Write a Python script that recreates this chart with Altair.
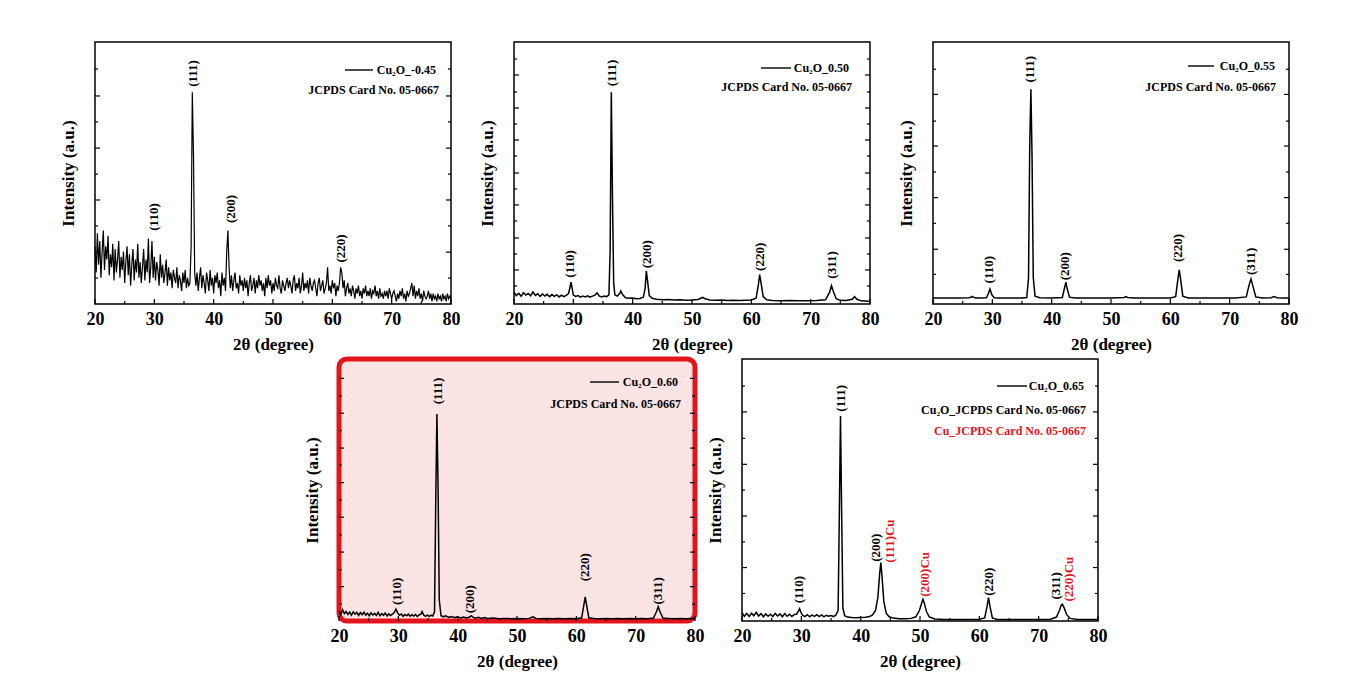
import altair as alt
import pandas as pd

FONT = "Liberation Serif"
W, H = 356, 262

X_MAJOR = [20, 30, 40, 50, 60, 70, 80]
X_MINOR = [25, 35, 45, 55, 65, 75]

# ---------------- Panel 1: Cu2O_-0.45 (noisy), sampled every 0.2 deg ----------
p1_y = [
    22, 12, 27, 15, 24,  10, 20, 28, 13, 22,  17, 26, 11, 19, 14,  23, 9, 21, 12, 17,
    24, 10, 18, 13, 20,  8, 16, 22, 11, 19,  7, 15, 21, 9, 17,  12, 23, 10, 16, 8,
    14, 21, 9, 17, 12,  25, 8, 14, 24, 10,  18, 9, 16, 13, 7,  19, 10, 15, 8, 12,
    17, 7, 14, 9, 12,  6, 13, 10, 8, 14,  6, 11, 9, 5, 12,  8, 13, 6, 10, 7,
    8, 22, 80.8, 57, 12,  7, 12, 5, 10, 14,  6, 11, 8, 4, 12,  9, 5, 13, 7, 10,
    4, 11, 8, 12, 6,  9, 3, 12, 7, 10,  5, 20, 28, 14, 6,  11, 5, 9, 12, 6,
    8, 4, 11, 7, 9,  5, 10, 6, 9, 3,  8, 11, 5, 7, 10,  4, 9, 6, 11, 7,
    9, 5, 8, 3, 10,  6, 11, 7, 9, 4,  8, 5, 10, 7, 6,  11, 6, 4, 9, 7,
    5, 8, 10, 6, 9,  7, 4, 9, 11, 5,  8, 6, 10, 4, 7,  12, 5, 8, 6, 9,
    4, 10, 7, 5, 8,  9, 6, 3, 8, 10,  5, 7, 9, 4, 6,  8, 14, 5, 7, 4,
    9, 6, 8, 3, 7,  5, 8, 14, 12, 6,  9, 3, 6, 8, 4,  6, 3, 7, 5, 2,
    6, 4, 7, 3, 5,  2, 6, 4, 7, 3,  5, 3, 6, 2, 5,  4, 7, 3, 5, 2,
    6, 3, 4, 2, 5,  3, 5, 2, 6, 4,  2, 4, 5, 3, 1,  4, 2, 5, 3, 6,
    2, 4, 1, 5, 3,  4, 6, 8, 3, 7,  2, 5, 3, 6, 2,  4, 1, 5, 3, 2,
    3, 5, 2, 4, 1,  4, 2, 3, 1, 4,  2, 3, 1, 4, 2,  3, 1, 4, 2, 3,
    2,
]
p1_x = [round(20 + 0.2 * i, 2) for i in range(len(p1_y))]

# ---------------- Panel 2: Cu2O_0.50 ----------------
p2_x = [20, 20.4, 20.8, 21.2, 21.6, 22, 22.4, 22.8, 23.2, 23.6, 24, 24.4, 24.8, 25.2, 25.6,
        26, 26.4, 26.8, 27.2, 27.6, 28, 28.4, 28.8, 29.2, 29.4, 29.6, 29.8, 30.0, 30.4,
        30.8, 31.2, 31.6, 32, 32.4, 32.8, 33.2, 33.6, 34.0, 34.4, 34.8, 35.2, 35.6, 36.0,
        36.2, 36.4, 36.6, 36.8, 37.0, 37.4, 37.8, 38.0, 38.3, 38.8, 39.4, 40, 40.6, 41.2,
        41.8, 42.1, 42.3, 42.5, 42.8, 43.3, 44, 45, 46, 47, 48, 49, 50, 51, 51.8, 52.2,
        53, 54, 55, 56, 57, 58, 59, 60, 60.8, 61.2, 61.4, 61.6, 62, 62.6, 63.5, 65, 66.5,
        68, 69.5, 71, 72.5, 73.2, 73.5, 73.8, 74.3, 75, 76, 77, 77.4, 77.8, 78.5, 79.2, 80]
p2_y = [4.5, 3.2, 4.1, 3.0, 4.3, 3.4, 4.0, 3.1, 4.6, 3.3, 3.9, 2.9, 3.8, 3.0, 3.7,
        2.8, 3.6, 2.9, 3.5, 2.7, 3.4, 2.8, 3.3, 4.0, 6.0, 8.3, 6.0, 3.4, 2.9,
        3.2, 2.6, 3.0, 2.7, 3.1, 2.6, 3.0, 3.3, 4.2, 3.0, 2.7, 3.0, 2.8, 3.5,
        20, 80.8, 40, 8, 3.5, 3.0, 4.0, 5.0, 3.6, 2.4, 2.2, 2.3, 2.0, 2.1,
        2.6, 6, 12.7, 9, 3.2, 2.2, 1.8, 1.6, 1.7, 1.5, 1.6, 1.4, 1.5, 1.7, 2.5, 2.0,
        1.5, 1.4, 1.5, 1.3, 1.4, 1.3, 1.4, 1.5, 2.2, 7.5, 11.2, 8.5, 2.8, 1.6, 1.3, 1.2, 1.3,
        1.2, 1.2, 1.3, 1.6, 4.5, 7.0, 5.0, 2.0, 1.4, 1.3, 1.8, 2.8, 1.8, 1.2, 1.1, 1.0]

# ---------------- Panel 3: Cu2O_0.55 ----------------
p3_x = [20, 22, 24, 26, 26.4, 26.6, 26.8, 27.2, 28, 29, 29.3, 29.6, 29.9, 30.3, 31, 33, 35,
        35.8, 36.1, 36.3, 36.5, 36.7, 36.9, 37.2, 38, 40, 41.8, 42.2, 42.4, 42.6, 43.0, 44,
        46, 48, 50, 52.2, 52.5, 52.8, 54, 56, 58, 60, 60.9, 61.3, 61.5, 61.7, 62.1, 63, 65,
        67, 69, 71, 72.8, 73.3, 73.6, 73.9, 74.4, 75.5, 77, 77.5, 78, 79, 80]
p3_y = [2.3, 2.3, 2.3, 2.4, 2.6, 2.9, 2.6, 2.3, 2.3, 2.4, 3.8, 5.7, 3.6, 2.4, 2.3, 2.3, 2.3,
        2.5, 10, 60, 82, 55, 10, 3.0, 2.4, 2.3, 2.5, 6.5, 8.3, 6.0, 2.6, 2.3,
        2.3, 2.3, 2.3, 2.5, 2.8, 2.5, 2.3, 2.3, 2.3, 2.3, 2.8, 10, 13, 10, 3.0, 2.3, 2.3,
        2.3, 2.3, 2.3, 2.7, 7.5, 9.5, 7.0, 2.7, 2.3, 2.4, 2.8, 2.4, 2.3, 2.3]

# ---------------- Panel 4: Cu2O_0.60 ----------------
p4_x = [20, 20.3, 20.6, 20.9, 21.2, 21.5, 21.8, 22.1, 22.4, 22.7, 23, 23.3, 23.6, 23.9, 24.2,
        24.5, 24.8, 25.1, 25.4, 25.7, 26, 26.3, 26.6, 26.9, 27.2, 27.5, 27.8, 28.1, 28.4,
        28.7, 29, 29.3, 29.6, 29.9, 30.2, 30.5, 30.8, 31.1, 31.4, 31.7, 32, 32.3, 32.6, 32.9,
        33.2, 33.5, 33.8, 34.0, 34.3, 34.6, 34.9, 35.2, 35.5, 35.8, 36.1, 36.3, 36.5, 36.7,
        36.9, 37.2, 37.6, 38, 38.5, 39, 39.5, 40, 40.5, 41, 41.5, 42, 42.3, 42.6, 43, 43.5,
        44, 44.5, 45, 46, 47, 48, 49, 50, 51, 52, 52.7, 53.2, 54, 55, 56, 57, 58, 59, 60,
        60.9, 61.3, 61.5, 61.7, 62.1, 63, 64, 65, 66, 67, 68, 69, 70, 71, 72, 73, 73.5,
        73.8, 74.1, 74.6, 75.5, 76.5, 77.5, 78.5, 79.5, 80]
p4_y = [3.8, 2.4, 4.3, 2.8, 3.6, 2.5, 3.4, 2.2, 3.5, 2.6, 3.3, 2.1, 3.2, 2.4, 3.4,
        2.2, 3.0, 2.0, 3.1, 2.3, 2.9, 2.1, 3.3, 2.0, 2.8, 2.2, 3.0, 1.9, 2.7,
        2.1, 2.6, 3.2, 4.5, 3.0, 2.2, 2.7, 1.8, 2.5, 2.0, 2.6, 1.8, 2.4, 1.9, 2.5,
        1.7, 2.3, 2.6, 3.6, 2.2, 1.8, 2.3, 1.7, 2.2, 1.9, 3.5, 45, 79, 50,
        8, 2.0, 1.6, 2.0, 1.4, 1.7, 1.3, 1.6, 1.2, 1.5, 1.2, 1.5, 2.0, 1.5, 1.1, 1.4,
        1.0, 1.3, 1.0, 1.1, 0.9, 1.0, 0.9, 1.0, 0.9, 1.0, 1.6, 1.0, 0.9, 1.0, 0.9, 1.0, 0.9, 1.0, 0.9,
        1.2, 6.5, 9.2, 6.5, 1.2, 1.0, 0.9, 1.0, 0.9, 1.0, 0.9, 1.0, 0.9, 1.0, 0.9, 1.1, 3.5,
        5.4, 3.5, 1.1, 1.0, 0.9, 1.0, 0.9, 1.0, 0.9]

# ---------------- Panel 5: Cu2O_0.65 ----------------
p5_x = [20, 20.4, 20.8, 21.2, 21.6, 22, 22.4, 22.8, 23.2, 23.6, 24, 24.4, 24.8, 25.2, 25.6,
        26, 26.4, 26.8, 27.2, 27.6, 28, 28.4, 28.8, 29.2, 29.5, 29.7, 29.9, 30.2, 30.6, 31,
        31.4, 31.8, 32.2, 32.6, 33, 33.4, 33.8, 34.2, 34.6, 35, 35.4, 35.8, 36.2, 36.4, 36.6,
        36.8, 37.0, 37.3, 37.8, 38.5, 39.2, 40, 40.8, 41.5, 42.0, 42.5, 42.9, 43.2, 43.4,
        43.6, 43.9, 44.3, 44.8, 45.5, 46.5, 47.5, 48.5, 49.3, 49.9, 50.3, 50.5, 50.7, 51.1,
        51.6, 52.5, 54, 55.5, 57, 58.5, 60, 60.9, 61.3, 61.55, 61.8, 62.2, 63, 64.5, 66,
        67.5, 69, 70.5, 72, 73, 73.5, 73.8, 74.0, 74.3, 74.7, 75.3, 76.5, 78, 79, 80]
p5_y = [3.2, 1.8, 2.9, 1.7, 3.0, 2.0, 3.3, 1.9, 2.8, 1.6, 2.7, 1.8, 2.6, 1.7, 2.9,
        1.9, 2.7, 1.6, 2.8, 1.8, 2.6, 1.7, 2.5, 2.6, 3.8, 4.7, 3.5, 2.2, 1.7, 2.4,
        1.6, 2.3, 1.8, 2.4, 1.7, 2.3, 1.6, 2.2, 1.8, 2.1, 1.7, 2.2, 4.0, 40, 78.2,
        40, 5.0, 2.0, 1.5, 1.3, 1.2, 1.3, 1.4, 1.7, 2.3, 4.0, 9.0, 18, 22.3,
        17, 7.5, 3.0, 1.6, 1.1, 0.9, 0.9, 1.0, 1.6, 4.0, 7.0, 8.3, 7.0, 3.5,
        1.5, 0.8, 0.6, 0.6, 0.6, 0.6, 0.7, 1.2, 5.5, 8.9, 5.5, 1.2, 0.6, 0.6, 0.6,
        0.6, 0.6, 0.6, 0.7, 1.5, 4.0, 6.0, 6.4, 5.0, 2.5, 1.0, 0.6, 0.6, 0.6, 0.6]

# ---------------- Peak labels ----------------
p1_lab = ["(110)", "(111)", "(200)", "(220)"]
p1_lx = [29.9, 36.6, 42.9, 61.4]
p1_ly = [33.2, 88.0, 36.3, 21.2]

p2_lab = ["(110)", "(111)", "(200)", "(220)", "(311)"]
p2_lx = [29.5, 36.5, 42.4, 61.5, 73.6]
p2_ly = [15.3, 88.2, 19.0, 18.0, 14.9]

p3_lab = ["(110)", "(111)", "(200)", "(220)", "(311)"]
p3_lx = [29.5, 36.4, 42.3, 61.3, 73.6]
p3_ly = [13.1, 89.6, 14.4, 21.4, 16.3]

p4_lab = ["(110)", "(111)", "(200)", "(220)", "(311)"]
p4_lx = [29.7, 36.7, 42.0, 61.5, 73.7]
p4_ly = [11.3, 87.8, 8.3, 20.5, 11.5]

p5_lab = ["(110)", "(111)", "(200)", "(111)Cu", "(200)Cu", "(220)", "(311)", "(220)Cu"]
p5_lx = [29.65, 36.7, 42.55, 44.9, 50.8, 61.6, 73.0, 75.1]
p5_ly = [12.0, 85.0, 28.0, 30.5, 17.8, 15.0, 13.4, 16.0]
p5_red = [False, False, False, True, True, False, False, True]

# ---------------- Legends ----------------
p1_leg = ["Cu\u2082O_-0.45", "JCPDS Card No. 05-0667"]
p2_leg = ["Cu\u2082O_0.50", "JCPDS Card No. 05-0667"]
p3_leg = ["Cu\u2082O_0.55", "JCPDS Card No. 05-0667"]
p4_leg = ["Cu\u2082O_0.60", "JCPDS Card No. 05-0667"]
p5_leg = ["Cu\u2082O_0.65", "Cu\u2082O_JCPDS Card No. 05-0667", "Cu_JCPDS Card No. 05-0667"]

# ---------------- Y tick positions (percent of plot height) ----------------
p1_ymaj = [19.8, 39.7, 59.5, 79.4]
p1_ymin = [9.9, 29.8, 49.6, 69.5, 89.7]
p2_ymaj = [13.0, 25.2, 37.8, 50.0, 62.6, 74.8, 87.4]
p2_ymin = [6.9, 19.1, 31.7, 43.9, 56.5, 68.7, 80.9, 93.5]
p3_ymaj = [20.9, 40.6, 60.3, 80.0]
p3_ymin = [11.3, 30.8, 50.4, 69.8, 89.6]
p4_ymaj = [13.1, 26.3, 39.6, 52.8, 66.0, 79.3, 92.6]
p4_ymin = [6.4, 19.6, 32.8, 46.2, 59.5, 72.7, 85.9]
p5_ymaj = [20.4, 40.1, 59.8, 79.8]
p5_ymin = [10.5, 30.2, 50.0, 69.7, 89.7]

RED = "#e3151c"
PINK = "#fce4e4"

XS = alt.Scale(domain=[20, 80], nice=False, zero=False, padding=0)
YS = alt.Scale(domain=[0, 100], nice=False, zero=False, padding=0)
AX = alt.Axis(title="2θ (degree)", values=X_MAJOR, format="d", labelPadding=6, titlePadding=8,
              labelFlush=False)
AY = alt.Axis(title="Intensity (a.u.)", labels=False, titlePadding=18)


def X(field="x"):
    return alt.X(f"{field}:Q", scale=XS, axis=AX, title="2θ (degree)")


def Y(field="y"):
    return alt.Y(f"{field}:Q", scale=YS, axis=AY, title="Intensity (a.u.)")


def panel(px, py, lab, lx, ly, lcol, leg, leg_pos, ymaj, ymin, lw=1.5, view=None):
    df = pd.DataFrame({"x": px, "y": py})
    line = alt.Chart(df).mark_line(color="black", strokeWidth=lw).encode(x=X(), y=Y())
    ldf = pd.DataFrame({"t": lab, "x": lx, "y": ly, "c": lcol})
    labels = alt.Chart(ldf).mark_text(angle=270, font=FONT, fontSize=13, fontWeight="bold",
                                      align="center", baseline="middle").encode(
        x=X(), y=Y(), text="t:N", color=alt.Color("c:N", scale=None),
    )
    layers = [line, labels]

    def tick_x(vals, ln):
        return alt.Chart(pd.DataFrame({"x": vals})).mark_rule(color="black", strokeWidth=1.2).encode(
            x=X(), y=alt.value(H), y2=alt.value(H - ln))

    def tick_y(vals, ln, right):
        x0 = W if right else 0
        x1 = W - ln if right else ln
        return alt.Chart(pd.DataFrame({"y": vals})).mark_rule(color="black", strokeWidth=1.2).encode(
            y=Y(), x=alt.value(x0), x2=alt.value(x1))

    layers += [tick_x(X_MAJOR, 5), tick_x(X_MINOR, 3),
               tick_y(ymaj, 5, False), tick_y(ymin, 3, False),
               tick_y(ymaj, 5, True), tick_y(ymin, 3, True)]
    (lx0, lx1, ly0), texts = leg_pos
    layers.append(alt.Chart(pd.DataFrame({"a": [0]})).mark_rule(color="black", strokeWidth=1.4).encode(
        x=alt.value(lx0), x2=alt.value(lx1), y=alt.value(ly0)))
    for i, (tx, ty) in enumerate(texts):
        col = RED if (i == 2) else "black"
        layers.append(alt.Chart(pd.DataFrame({"t": [leg[i]]})).mark_text(
            font=FONT, fontSize=12, fontWeight="bold", align="right", baseline="middle",
            color=col).encode(text="t:N", x=alt.value(tx), y=alt.value(ty)))
    ch = alt.layer(*layers).properties(width=W, height=H)
    if view is not None:
        ch = ch.properties(view=view)
    return ch


blk = ["black"]
c1 = panel(p1_x, p1_y, p1_lab, p1_lx, p1_ly, blk * len(p1_lab), p1_leg,
           ((250, 278, 28), [(341, 28), (344, 48)]), p1_ymaj, p1_ymin, lw=1.2)
c2 = panel(p2_x, p2_y, p2_lab, p2_lx, p2_ly, blk * len(p2_lab), p2_leg,
           ((247, 277, 26), [(335, 26), (338, 45)]), p2_ymaj, p2_ymin)
c3 = panel(p3_x, p3_y, p3_lab, p3_lx, p3_ly, blk * len(p3_lab), p3_leg,
           ((255, 281, 24), [(342, 24), (343, 45)]), p3_ymaj, p3_ymin)
c4 = panel(p4_x, p4_y, p4_lab, p4_lx, p4_ly, blk * len(p4_lab), p4_leg,
           ((251, 280, 23), [(339, 23), (342, 45)]), p4_ymaj, p4_ymin,
           view=alt.ViewBackground(fill=PINK, stroke=RED, strokeWidth=5, cornerRadius=8))
c5 = panel(p5_x, p5_y, p5_lab, p5_lx, p5_ly, [RED if r else "black" for r in p5_red], p5_leg,
           ((255, 285, 27), [(342, 27), (344, 51), (344, 72)]), p5_ymaj, p5_ymin)

spacer = alt.Chart(pd.DataFrame({"v": [0]})).mark_point(opacity=0).encode(
    x=alt.X("v:Q", axis=None), y=alt.Y("v:Q", axis=None)
).properties(width=197, height=H, view=alt.ViewBackground(stroke="transparent"))

top = alt.hconcat(c1, c2, c3, spacing=63, bounds="flush")
bottom = alt.hconcat(spacer, c4, c5, spacing=47, bounds="flush")

chart = alt.vconcat(top, bottom, spacing=3).properties(
    padding={"left": 50, "top": 33, "right": 5, "bottom": 5},
    background="white",
).configure_view(stroke="black", strokeWidth=1.5).configure_axis(
    labelFont=FONT, titleFont=FONT, labelFontSize=18, titleFontSize=17,
    labelFontWeight="bold", titleFontWeight="bold", labelColor="black", titleColor="black",
    grid=False, ticks=False, domain=False,
)

chart.save("out.html", embed_options={"renderer": "svg", "actions": False})
